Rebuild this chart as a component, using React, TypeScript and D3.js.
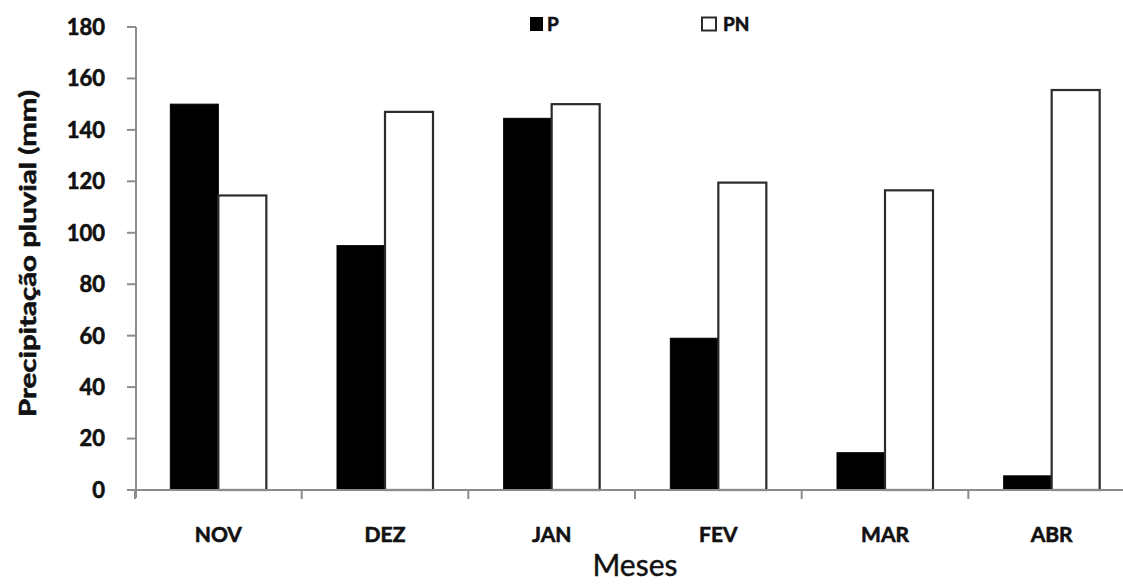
import React from "react";
import * as d3 from "d3";

const months = ["NOV", "DEZ", "JAN", "FEV", "MAR", "ABR"];
const seriesP = [150, 95, 144.5, 59, 14.5, 5.5];
const seriesPN = [114.5, 147, 150, 119.5, 116.5, 155.5];
const yTicks = [0, 20, 40, 60, 80, 100, 120, 140, 160, 180];
const seriesNames = ["P", "PN"];

const W = 1123;
const H = 584;
const FONT = "Lato, 'Open Sans', sans-serif";

export default function App() {
  const x0 = 135;
  const x1 = 1135;
  const yBottom = 490;
  const yTop = 27;

  const x = d3.scaleBand<string>().domain(months).range([x0, x1]).paddingInner(0.424).paddingOuter(0.212);
  const xSub = d3.scaleBand<string>().domain(seriesNames).range([0, x.bandwidth()]);
  const y = d3.scaleLinear().domain([0, 180]).range([yBottom, yTop]);
  const step = x.step();
  const boundaries = d3.range(months.length + 1).map((i) => x0 + i * step);

  const axisColor = "#8c8c8c";
  const thick = { stroke: "#111", strokeWidth: 0.6 };

  return (
    <svg width={W} height={H} style={{ position: "absolute", left: 0, top: 0, background: "#fff" }} fontFamily={FONT}>
      <rect x={0} y={0} width={W} height={H} fill="#fff" />
      {/* bars */}
      {months.map((m, i) => (
        <g key={m}>
          <rect
            x={(x(m) as number) + (xSub("P") as number)}
            y={y(seriesP[i])}
            width={xSub.bandwidth()}
            height={yBottom - y(seriesP[i])}
            fill="#000"
            stroke="#000"
            strokeWidth={1}
          />
          <rect
            x={(x(m) as number) + (xSub("PN") as number)}
            y={y(seriesPN[i])}
            width={xSub.bandwidth()}
            height={yBottom - y(seriesPN[i])}
            fill="#fff"
            stroke="#2b2b2b"
            strokeWidth={2.2}
          />
        </g>
      ))}
      {/* y axis */}
      <line x1={136} x2={136} y1={yTop} y2={yBottom + 8} stroke={axisColor} strokeWidth={2} />
      {yTicks.map((t) => (
        <g key={t}>
          <line x1={127} x2={136} y1={y(t)} y2={y(t)} stroke={axisColor} strokeWidth={2} />
          <text x={105} y={y(t)} dy="0.36em" textAnchor="end" fontSize={22} fontWeight="bold" fill="#111" {...thick}>
            {t}
          </text>
        </g>
      ))}
      {/* x axis */}
      <line x1={127} x2={W} y1={yBottom} y2={yBottom} stroke={axisColor} strokeWidth={2} />
      {boundaries.map((b, i) => (
        <line key={i} x1={b} x2={b} y1={yBottom} y2={yBottom + 9} stroke={axisColor} strokeWidth={2} />
      ))}
      {months.map((m) => (
        <text
          key={m}
          x={(x(m) as number) + x.bandwidth() / 2}
          y={542}
          textAnchor="middle"
          fontSize={21}
          fontWeight="bold"
          fill="#111"
          {...thick}
        >
          {m}
        </text>
      ))}
      <text x={(x0 + x1) / 2} y={576} textAnchor="middle" fontSize={30} fill="#111" stroke="#111" strokeWidth={0.4}>
        Meses
      </text>
      <text
        transform={`translate(36,${253.5}) rotate(-90)`}
        textAnchor="middle"
        fontSize={23.5}
        fontWeight="bold"
        fill="#111"
        textLength={327}
        lengthAdjust="spacingAndGlyphs"
        {...thick}
      >
        Precipitação pluvial (mm)
      </text>
      {/* legend */}
      <rect x={530} y={17} width={13} height={14} fill="#000" />
      <text x={547} y={31} fontSize={19} fontWeight="bold" fill="#111" {...thick}>P</text>
      <rect x={702} y={17.5} width={14} height={13} fill="#fff" stroke="#2b2b2b" strokeWidth={2} />
      <text x={723} y={31} fontSize={19} fontWeight="bold" fill="#111" {...thick}>PN</text>
    </svg>
  );
}
